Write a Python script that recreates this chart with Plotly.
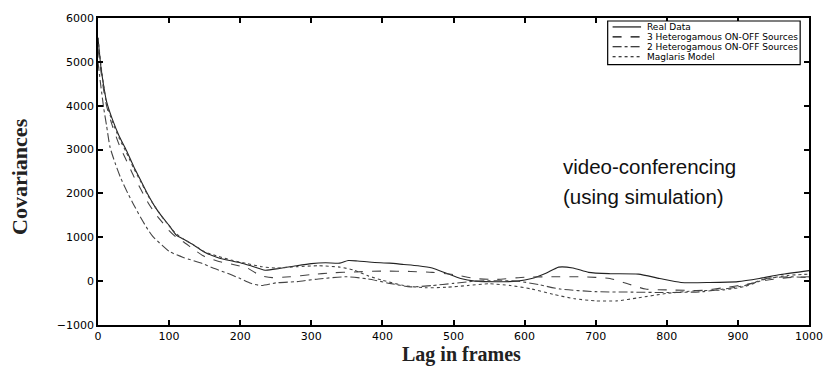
import plotly.graph_objects as go

# ---- data ----
real_x = [0, 4, 8, 12, 20, 30, 40, 50, 60, 70, 80, 90, 100, 110, 120, 135, 150, 170, 185, 200, 215, 235, 255, 275, 300, 320, 340, 352, 365, 385, 410, 430, 450, 470, 490, 510, 530, 560, 590, 610, 630, 648, 668, 690, 720, 760, 790, 820, 860, 900, 930, 960, 1000]
real_y = [5550, 4900, 4450, 4100, 3700, 3300, 2980, 2620, 2300, 1980, 1700, 1470, 1270, 1050, 960, 820, 660, 530, 470, 420, 350, 250, 290, 340, 400, 420, 410, 470, 460, 430, 410, 380, 350, 300, 180, 60, 0, -15, 0, 60, 180, 320, 300, 200, 170, 160, 60, -30, -30, -10, 60, 150, 240]

het3_x = [0, 4, 8, 12, 20, 30, 40, 50, 60, 70, 80, 90, 100, 110, 120, 135, 150, 170, 190, 210, 228, 245, 270, 300, 330, 360, 400, 440, 470, 500, 530, 560, 600, 640, 680, 720, 745, 770, 800, 850, 880, 910, 940, 970, 1000]
het3_y = [5300, 4800, 4350, 4000, 3550, 3100, 2750, 2400, 2100, 1800, 1550, 1350, 1150, 1000, 900, 720, 560, 450, 380, 300, 130, 80, 100, 150, 190, 210, 230, 220, 200, 150, 60, 40, 90, 100, 100, 60, -60, -180, -200, -210, -150, -80, 20, 80, 100]

het2_x = [0, 4, 8, 12, 17, 25, 32, 42, 50, 60, 70, 77, 90, 101, 120, 147, 165, 182, 200, 215, 230, 250, 280, 310, 350, 380, 410, 440, 470, 500, 530, 560, 590, 620, 650, 700, 750, 800, 850, 880, 910, 940, 970, 1000]
het2_y = [5000, 4450, 3950, 3550, 3050, 2650, 2350, 2000, 1750, 1450, 1180, 1020, 820, 670, 540, 400, 280, 180, 60, -50, -100, -40, -10, 50, 100, 50, -50, -130, -100, -50, 0, 10, 0, -80, -180, -240, -250, -260, -240, -180, -100, 60, 100, 80]

mag_x = [0, 4, 8, 12, 20, 30, 40, 50, 60, 70, 80, 90, 100, 110, 120, 135, 150, 170, 190, 210, 230, 250, 280, 310, 340, 360, 380, 400, 430, 460, 490, 520, 550, 580, 610, 640, 670, 700, 730, 760, 800, 840, 880, 910, 940, 970, 1000]
mag_y = [5550, 4950, 4450, 4050, 3650, 3250, 2930, 2580, 2270, 1960, 1700, 1470, 1260, 1080, 960, 820, 670, 560, 470, 400, 330, 300, 330, 350, 320, 250, 120, 20, -100, -150, -140, -100, -60, -100, -180, -300, -400, -450, -450, -380, -280, -220, -200, -120, 50, 130, 160]

names = ["Real Data", "3 Heterogamous ON-OFF Sources",
         "2 Heterogamous ON-OFF Sources", "Maglaris Model"]
x_ticks = [0, 100, 200, 300, 400, 500, 600, 700, 800, 900, 1000]
y_ticks = [-1000, 0, 1000, 2000, 3000, 4000, 5000, 6000]

series = [(real_x, real_y, "solid", "#222222"),
          (het3_x, het3_y, "dash", "#444444"),
          (het2_x, het2_y, "dashdot", "#444444"),
          (mag_x, mag_y, "dot", "#444444")]

fig = go.Figure()
for (xs, ys, dash, col), name in zip(series, names):
    fig.add_trace(go.Scatter(x=xs, y=ys, mode="lines", name=name,
                             line=dict(color=col, width=1.1, dash=dash,
                                       shape="spline", smoothing=0.6),
                             showlegend=False))

W, H = 835, 369
L, R, T, B = 98, 13, 16, 44

TX0, TX1, TY0, TY1 = float(L), float(W - R), float(T), float(H - B)

def px(xp):
    return (xp - TX0) / (TX1 - TX0)

def py(yp):
    return (TY1 - yp) / (TY1 - TY0)

# manual legend box
fig.add_shape(type="rect", xref="paper", yref="paper",
              x0=px(617), x1=px(813), y0=py(63), y1=py(19),
              line=dict(color="black", width=1.2), fillcolor="white")
row_y = [25, 35, 45, 55]
for (xs, ys, dash, col), name, ry in zip(series, names, row_y):
    fig.add_shape(type="line", xref="paper", yref="paper",
                  x0=px(622), x1=px(651), y0=py(ry), y1=py(ry),
                  line=dict(color="black", width=1.1, dash=dash))
    fig.add_annotation(text=name, xref="paper", yref="paper",
                       x=px(655), y=py(ry), xanchor="left", yanchor="middle",
                       showarrow=False,
                       font=dict(family="DejaVu Sans", size=9, color="black"))

fig.add_annotation(text="video-conferencing", xref="paper", yref="paper",
                   x=px(569), y=py(165), xanchor="left", yanchor="middle",
                   showarrow=False,
                   font=dict(family="Liberation Sans, Arial", size=20.5, color="#111"))
fig.add_annotation(text="(using simulation)", xref="paper", yref="paper",
                   x=px(569), y=py(196), xanchor="left", yanchor="middle",
                   showarrow=False,
                   font=dict(family="Liberation Sans, Arial", size=20.5, color="#111"))

# axis titles
fig.add_annotation(text="<b>Lag in frames</b>", xref="paper", yref="paper",
                   x=px(468), y=py(355), xanchor="center", yanchor="middle",
                   showarrow=False,
                   font=dict(family="Liberation Serif, Times New Roman", size=20, color="#222"))
fig.add_annotation(text="<b>Covariances</b>", xref="paper", yref="paper",
                   x=px(18.5), y=py(175), xanchor="center", yanchor="middle",
                   textangle=-90, showarrow=False,
                   font=dict(family="Liberation Serif, Times New Roman", size=22, color="#222"))

axis_common = dict(showline=True, linecolor="black", linewidth=1.5,
                   mirror="ticks", ticks="inside", ticklen=5, tickwidth=1.5,
                   tickcolor="black", showgrid=False, zeroline=False,
                   tickfont=dict(family="DejaVu Sans", size=11, color="black"))

fig.update_xaxes(range=[0, 1000], tickvals=x_ticks,
                 ticktext=[str(v) for v in x_ticks], **axis_common)
fig.update_yaxes(range=[-1000, 6000], tickvals=y_ticks,
                 ticktext=[("\u2212" + str(-v)) if v < 0 else str(v) for v in y_ticks],
                 **axis_common)

fig.update_layout(width=W, height=H, margin=dict(l=L, r=R, t=T, b=B),
                  paper_bgcolor="white", plot_bgcolor="white",
                  showlegend=False)

fig.write_html("out.html")
